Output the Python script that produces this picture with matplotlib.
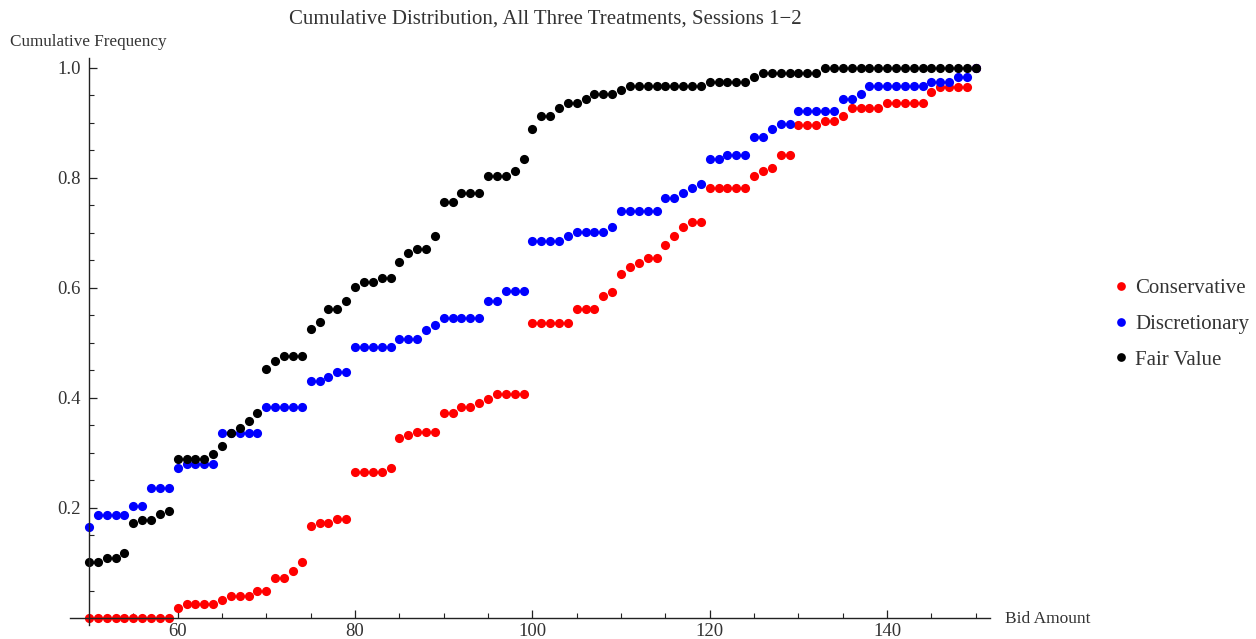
import matplotlib
matplotlib.use("Agg")
import matplotlib.pyplot as plt
from matplotlib.ticker import FixedLocator

# bid amounts 50..150, one point per integer
bids = list(range(50, 151))

conservative = [
    0, 0, 0, 0, 0, 0, 0, 0, 0, 0,                                          # 50-59
    0.018, 0.025, 0.025, 0.025, 0.025, 0.033, 0.040, 0.040, 0.040, 0.049,  # 60-69
    0.049, 0.072, 0.073, 0.085, 0.102, 0.167, 0.172, 0.173, 0.180, 0.180,  # 70-79
    0.265, 0.265, 0.265, 0.265, 0.273, 0.327, 0.333, 0.338, 0.338, 0.338,  # 80-89
    0.373, 0.373, 0.383, 0.383, 0.391, 0.399, 0.407, 0.407, 0.407, 0.407,  # 90-99
    0.537, 0.537, 0.537, 0.537, 0.537, 0.561, 0.561, 0.561, 0.585, 0.593,  # 100-109
    0.625, 0.638, 0.646, 0.654, 0.654, 0.678, 0.695, 0.710, 0.719, 0.719,  # 110-119
    0.781, 0.781, 0.781, 0.781, 0.781, 0.804, 0.812, 0.818, 0.842, 0.842,  # 120-129
    0.896, 0.896, 0.896, 0.904, 0.904, 0.912, 0.927, 0.927, 0.927, 0.927,  # 130-139
    0.936, 0.936, 0.936, 0.936, 0.936, 0.957, 0.966, 0.966, 0.966, 0.966,  # 140-149
    1.0,                                                                   # 150
]

discretionary = [
    0.166, 0.187, 0.187, 0.187, 0.187, 0.204, 0.204, 0.236, 0.236, 0.236,  # 50-59
    0.272, 0.280, 0.280, 0.280, 0.280, 0.337, 0.337, 0.337, 0.337, 0.337,  # 60-69
    0.383, 0.383, 0.383, 0.383, 0.383, 0.430, 0.430, 0.439, 0.447, 0.447,  # 70-79
    0.492, 0.492, 0.492, 0.492, 0.492, 0.507, 0.507, 0.507, 0.524, 0.533,  # 80-89
    0.545, 0.545, 0.545, 0.545, 0.545, 0.577, 0.577, 0.594, 0.594, 0.594,  # 90-99
    0.686, 0.686, 0.686, 0.686, 0.695, 0.702, 0.702, 0.702, 0.702, 0.710,  # 100-109
    0.740, 0.740, 0.740, 0.740, 0.740, 0.764, 0.764, 0.772, 0.781, 0.789,  # 110-119
    0.834, 0.834, 0.842, 0.842, 0.842, 0.874, 0.874, 0.889, 0.898, 0.898,  # 120-129
    0.921, 0.921, 0.921, 0.921, 0.921, 0.943, 0.943, 0.952, 0.967, 0.967,  # 130-139
    0.967, 0.967, 0.967, 0.967, 0.967, 0.975, 0.975, 0.975, 0.984, 0.984,  # 140-149
    1.0,                                                                   # 150
]

fair_value = [
    0.102, 0.102, 0.110, 0.110, 0.119, 0.172, 0.179, 0.179, 0.189, 0.195,  # 50-59
    0.289, 0.289, 0.289, 0.289, 0.298, 0.313, 0.337, 0.345, 0.359, 0.373,  # 60-69
    0.453, 0.468, 0.476, 0.476, 0.476, 0.525, 0.539, 0.561, 0.561, 0.577,  # 70-79
    0.601, 0.610, 0.610, 0.618, 0.618, 0.647, 0.663, 0.671, 0.671, 0.695,  # 80-89
    0.756, 0.756, 0.772, 0.772, 0.772, 0.804, 0.804, 0.804, 0.812, 0.834,  # 90-99
    0.889, 0.912, 0.912, 0.927, 0.936, 0.936, 0.943, 0.952, 0.952, 0.952,  # 100-109
    0.959, 0.967, 0.967, 0.967, 0.967, 0.967, 0.967, 0.967, 0.967, 0.967,  # 110-119
    0.975, 0.975, 0.975, 0.975, 0.975, 0.984, 0.991, 0.991, 0.991, 0.991,  # 120-129
    0.991, 0.991, 0.991, 1.0, 1.0, 1.0, 1.0, 1.0, 1.0, 1.0,                # 130-139
    1.0, 1.0, 1.0, 1.0, 1.0, 1.0, 1.0, 1.0, 1.0, 1.0,                      # 140-149
    1.0,                                                                   # 150
]

series = [
    ("Conservative", conservative, "#ff0000"),
    ("Discretionary", discretionary, "#0000ff"),
    ("Fair Value", fair_value, "#000000"),
]

plt.rcParams["font.family"] = ["Liberation Serif", "DejaVu Serif"]
text_col = "#333333"

fig = plt.figure(figsize=(12.56, 6.39), dpi=100)
ax = fig.add_axes([70 / 1256, 1 - 625 / 639, 920 / 1256, 567 / 639])

for name, vals, col in series:
    ax.plot(bids, vals, "o", color=col, markersize=6.6, markeredgewidth=0,
            label=name, clip_on=False)

ax.set_xlim(47.86, 151.6)
ax.set_ylim(-0.0127, 1.018)

ax.spines["top"].set_visible(False)
ax.spines["right"].set_visible(False)
ax.spines["left"].set_position(("data", 50))
ax.spines["bottom"].set_position(("data", 0))
for s in ("left", "bottom"):
    ax.spines[s].set_linewidth(1.0)
    ax.spines[s].set_color("#222222")

ax.xaxis.set_major_locator(FixedLocator([60, 80, 100, 120, 140]))
ax.xaxis.set_minor_locator(FixedLocator([55, 65, 70, 75, 85, 90, 95, 105, 110,
                                         115, 125, 130, 135, 145, 150]))
ax.yaxis.set_major_locator(FixedLocator([0.2, 0.4, 0.6, 0.8, 1.0]))
ax.yaxis.set_minor_locator(FixedLocator([0.05, 0.1, 0.15, 0.25, 0.3, 0.35, 0.45,
                                         0.5, 0.55, 0.65, 0.7, 0.75, 0.85, 0.9, 0.95]))
ax.yaxis.set_major_formatter(plt.FuncFormatter(lambda v, p: f"{v:.1f}"))

ax.tick_params(which="major", direction="in", length=6, width=0.9,
               colors="#222222", labelcolor=text_col, labelsize=13.5)
ax.tick_params(axis="y", which="major", pad=6)
ax.tick_params(axis="x", which="major", pad=3.5)
ax.tick_params(which="minor", direction="in", length=3.5, width=0.8, colors="#222222")

fig.text(545 / 1256, 1 - 19 / 639, "Cumulative Distribution, All Three Treatments, Sessions 1\u22122",
         ha="center", va="center", fontsize=15, color=text_col)
fig.text(10 / 1256, 1 - 42 / 639, "Cumulative Frequency",
         ha="left", va="center", fontsize=12.3, color=text_col)
fig.text(1005 / 1256, 1 - 619 / 639, "Bid Amount",
         ha="left", va="center", fontsize=12.5, color=text_col)

leg = fig.legend(loc="center left", bbox_to_anchor=(1104 / 1256, 1 - 324 / 639),
                 frameon=False, fontsize=15, markerscale=0.95, handlelength=0.6,
                 handletextpad=0.4, labelspacing=0.78, borderpad=0)
for t in leg.get_texts():
    t.set_color(text_col)

fig.savefig("out.png", dpi=100)
